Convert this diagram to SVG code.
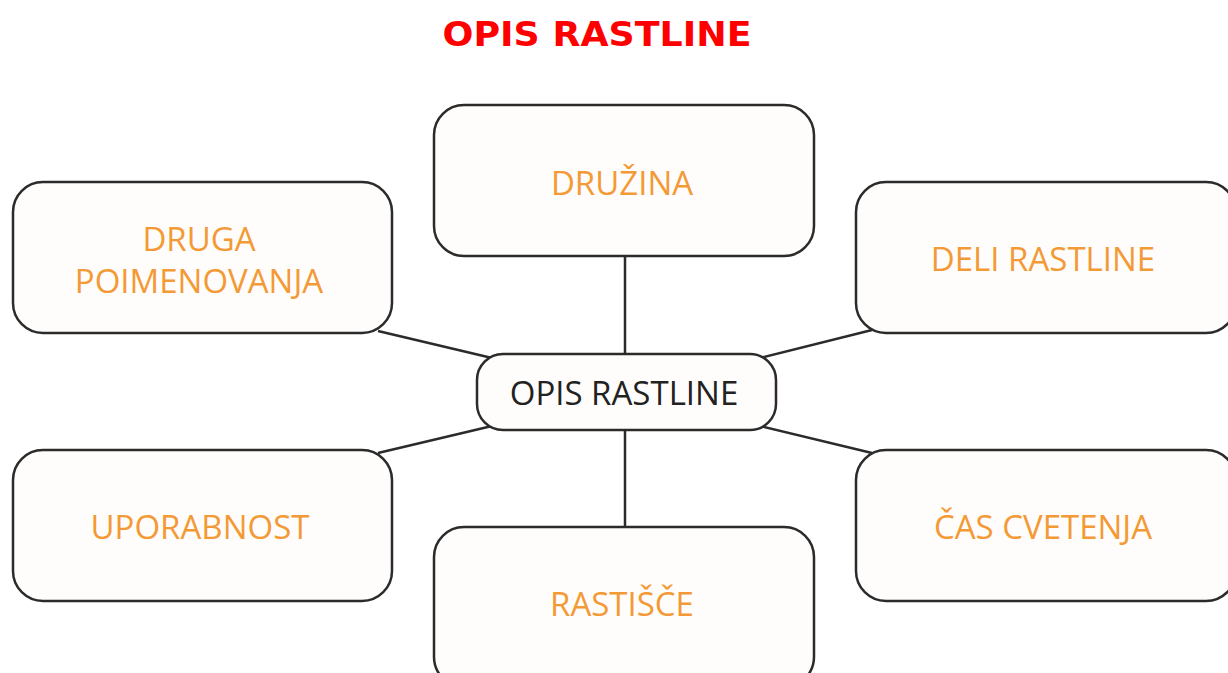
<svg xmlns="http://www.w3.org/2000/svg" width="1228" height="673" viewBox="0 0 1228 673">
<style>
.box{fill:#fffdfb;stroke:#2b2b2b;stroke-width:2.5}
.lbl{font-family:"Open Sans","Noto Sans",sans-serif;font-size:33px;fill:#f39a36;text-anchor:middle}
.ctr{font-family:"Open Sans","Noto Sans",sans-serif;font-size:33px;fill:#222;text-anchor:middle}
.ln{stroke:#2b2b2b;stroke-width:2.5;fill:none}
</style>
<rect width="1228" height="673" fill="#ffffff"/>
<text x="597" y="46" font-family="'DejaVu Sans',sans-serif" font-weight="bold" font-size="33" fill="#ff0000" text-anchor="middle" textLength="309" lengthAdjust="spacingAndGlyphs">OPIS RASTLINE</text>
<g id="connectors">
<line class="ln" x1="625" y1="256" x2="625" y2="354"/>
<line class="ln" x1="625" y1="430" x2="625" y2="527"/>
<line class="ln" x1="378" y1="331" x2="492" y2="358"/>
<line class="ln" x1="760" y1="358" x2="872" y2="330"/>
<line class="ln" x1="378" y1="453" x2="492" y2="426"/>
<line class="ln" x1="760" y1="426" x2="872" y2="453"/>
</g>
<g id="druzina">
<rect class="box" x="434" y="105" width="380" height="151" rx="30"/>
<text class="lbl" x="622" y="195">DRUŽINA</text>
</g>
<g id="druga">
<rect class="box" x="13" y="182" width="379" height="151" rx="30"/>
<text class="lbl" x="199" y="251">DRUGA</text>
<text class="lbl" x="199" y="293">POIMENOVANJA</text>
</g>
<g id="deli">
<rect class="box" x="856" y="182" width="380" height="151" rx="30"/>
<text class="lbl" x="1043" y="271">DELI RASTLINE</text>
</g>
<g id="uporabnost">
<rect class="box" x="13" y="450" width="379" height="151" rx="30"/>
<text class="lbl" x="200" y="539">UPORABNOST</text>
</g>
<g id="cas">
<rect class="box" x="856" y="450" width="380" height="151" rx="30"/>
<text class="lbl" x="1043" y="539">ČAS CVETENJA</text>
</g>
<g id="rastisce">
<rect class="box" x="434" y="527" width="380" height="160" rx="30"/>
<text class="lbl" x="622" y="616">RASTIŠČE</text>
</g>
<g id="center">
<rect class="box" x="477" y="354" width="299" height="76" rx="26"/>
<text class="ctr" x="624" y="405">OPIS RASTLINE</text>
</g>
</svg>
